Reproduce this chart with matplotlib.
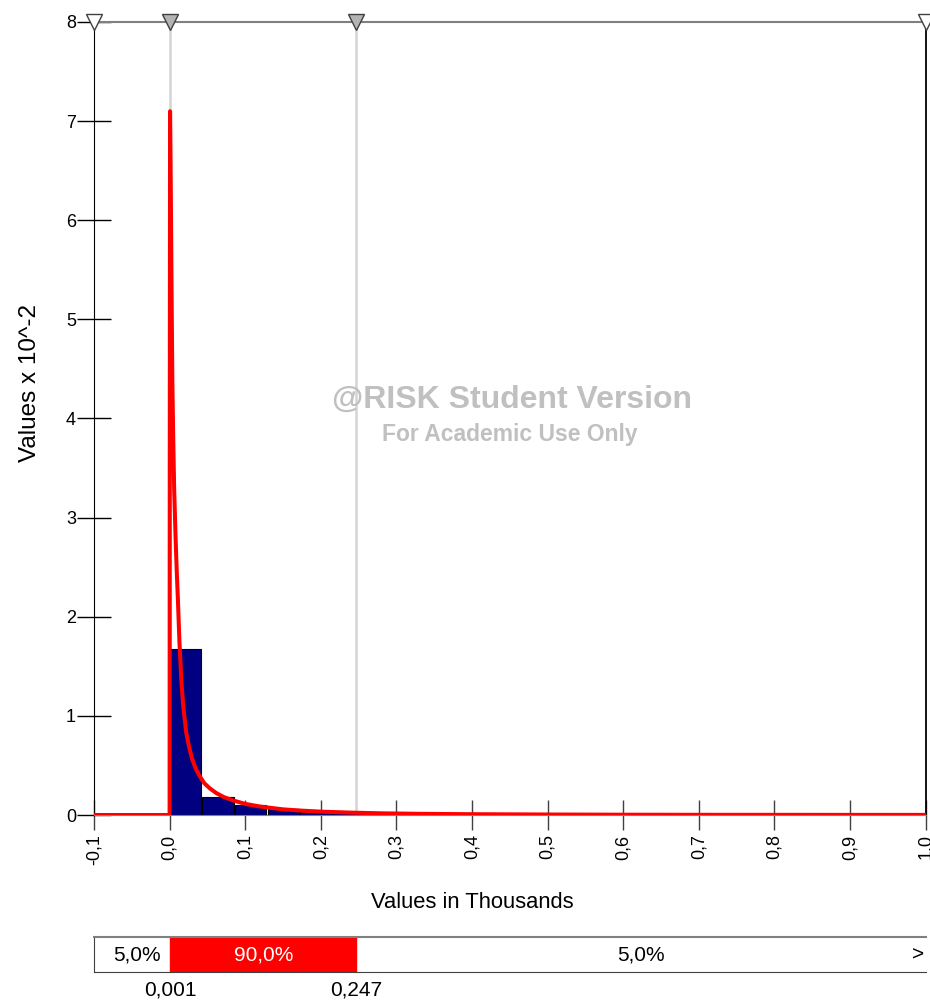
import numpy as np
import matplotlib
matplotlib.use("Agg")
from matplotlib import pyplot as plt
from matplotlib import transforms

plt.rcParams['font.family'] = ['Liberation Sans', 'DejaVu Sans']

# histogram of simulated values (x in thousands, y in 10^-2)
bin_start = 0.0
bin_width = 0.0432
bar_heights = [1.675, 0.178, 0.098, 0.057, 0.044, 0.027, 0.020, 0.014,
               0.010, 0.008, 0.006, 0.005, 0.004, 0.003, 0.003, 0.002,
               0.002, 0.002, 0.001, 0.001]

# fitted density curve
curve_x = [-0.1, 0.0, 0.0002, 0.0006, 0.0015, 0.0026, 0.0036, 0.0048,
           0.0060, 0.0079, 0.0095, 0.011, 0.013, 0.0155, 0.018, 0.022,
           0.026, 0.030, 0.035, 0.040, 0.046, 0.053, 0.062, 0.072,
           0.085, 0.100, 0.120, 0.150, 0.175, 0.200, 0.240, 0.280,
           0.330, 0.400, 0.500, 0.600, 0.700, 0.850, 1.000]
curve_y = [0.0, 0.0, 3.5, 7.1, 6.4, 5.3, 4.4, 3.8,
           3.3, 2.8, 2.45, 2.17, 1.75, 1.36, 1.10, 0.83,
           0.68, 0.56, 0.46, 0.39, 0.32, 0.27, 0.22, 0.18,
           0.145, 0.112, 0.085, 0.057, 0.044, 0.034, 0.024, 0.017,
           0.012, 0.008, 0.005, 0.003, 0.002, 0.0015, 0.001]

x_ticks = [-0.1, 0.0, 0.1, 0.2, 0.3, 0.4, 0.5, 0.6, 0.7, 0.8, 0.9, 1.0]
x_tick_labels = ['-0,1', '0,0', '0,1', '0,2', '0,3', '0,4', '0,5',
                 '0,6', '0,7', '0,8', '0,9', '1,0']
y_ticks = [0, 1, 2, 3, 4, 5, 6, 7, 8]

# delimiters and probability bands
left_cut = 0.001
right_cut = 0.247
left_cut_label = '0,001'
right_cut_label = '0,247'
band_labels = ['5,0%', '90,0%', '5,0%']

W, H = 930, 1001
fig = plt.figure(figsize=(W / 100, H / 100), dpi=100)

ax = fig.add_axes([94 / W, 186 / H, 831.6 / W, 793 / H])
ax.set_xlim(-0.1, 1.0)
ax.set_ylim(0, 8)

edges = bin_start + bin_width * np.arange(len(bar_heights))
ax.bar(edges, bar_heights, width=bin_width * 0.96, align='edge',
       color='#000080', edgecolor='black', linewidth=0.8, zorder=2)

ax.plot(curve_x, curve_y, color='red', lw=2.9, zorder=4,
        solid_joinstyle='round')

# delimiter lines with markers on top
for xc in [left_cut, right_cut]:
    ax.axvline(xc, color='#d4d4d4', lw=1.8, zorder=1)
ax.plot([left_cut, right_cut], [8, 8], ls='none', marker='v', ms=11.5,
        mfc='#b4b4b4', mec='#404040', mew=1, clip_on=False, zorder=6)
ax.plot([-0.1, 1.0], [8, 8], ls='none', marker='v', ms=11.5,
        mfc='white', mec='#404040', mew=1, clip_on=False, zorder=6)

ax.spines['top'].set_color('#808080')
ax.spines['top'].set_linewidth(1.5)
ax.spines['bottom'].set_color('#808080')
ax.spines['left'].set_color('black')
ax.spines['right'].set_color('black')
ax.spines['right'].set_linewidth(1.3)

ax.set_xticks(x_ticks)
ax.set_xticklabels(x_tick_labels)
ax.set_yticks(y_ticks)
ax.set_yticklabels([str(v) for v in y_ticks])
ax.tick_params(axis='y', direction='inout', length=24, width=1,
               labelsize=13, pad=1, color='black')
ax.tick_params(axis='x', direction='inout', length=22, width=1,
               labelsize=13, labelrotation=90, pad=3, color='#404040')

fig.text(30 / W, 1 - 383 / H, 'Values x 10^-2', rotation=90,
         ha='center', va='center', fontsize=17.5)
fig.text(472 / W, 1 - 903 / H, 'Values in Thousands',
         ha='center', va='center', fontsize=15.8)

fig.text(512 / W, 1 - 400 / H, '@RISK Student Version', ha='center',
         va='center', fontsize=23, fontweight='bold', color='#c0c0c0')
fig.text(510 / W, 1 - 435 / H, 'For Academic Use Only', ha='center',
         va='center', fontsize=16.5, fontweight='bold', color='#c0c0c0')

# probability band strip
bax = fig.add_axes([94 / W, 1 - 972 / H, 831.6 / W, 34.6 / H])
bax.set_xlim(-0.1, 1.0)
bax.set_ylim(0, 1)
bax.axvspan(left_cut, right_cut, color='red', zorder=1)
bax.set_xticks([])
bax.set_yticks([])
bax.spines['top'].set_color('#808080')
bax.spines['top'].set_linewidth(1.5)
bax.spines['bottom'].set_color('#404040')
bax.spines['left'].set_color('#404040')
bax.spines['right'].set_visible(False)
bax.patch.set_alpha(0)

trans = transforms.blended_transform_factory(bax.transData, bax.transAxes)
bax.text(-0.043, 0.5, band_labels[0], transform=trans, ha='center',
         va='center', fontsize=15)
bax.text((left_cut + right_cut) / 2, 0.5, band_labels[1], transform=trans,
         ha='center', va='center', fontsize=15, color='white')
bax.text((right_cut + 1.0) / 2, 0.5, band_labels[2], transform=trans,
         ha='center', va='center', fontsize=15)
bax.text(0.998, 0.5, '>', transform=trans, ha='right', va='center',
         fontsize=15, rotation=0)
bax.text(left_cut, -0.52, left_cut_label, transform=trans, ha='center',
         va='center', fontsize=15, clip_on=False)
bax.text(right_cut, -0.52, right_cut_label, transform=trans, ha='center',
         va='center', fontsize=15, clip_on=False)

fig.savefig('out.png', dpi=100)
